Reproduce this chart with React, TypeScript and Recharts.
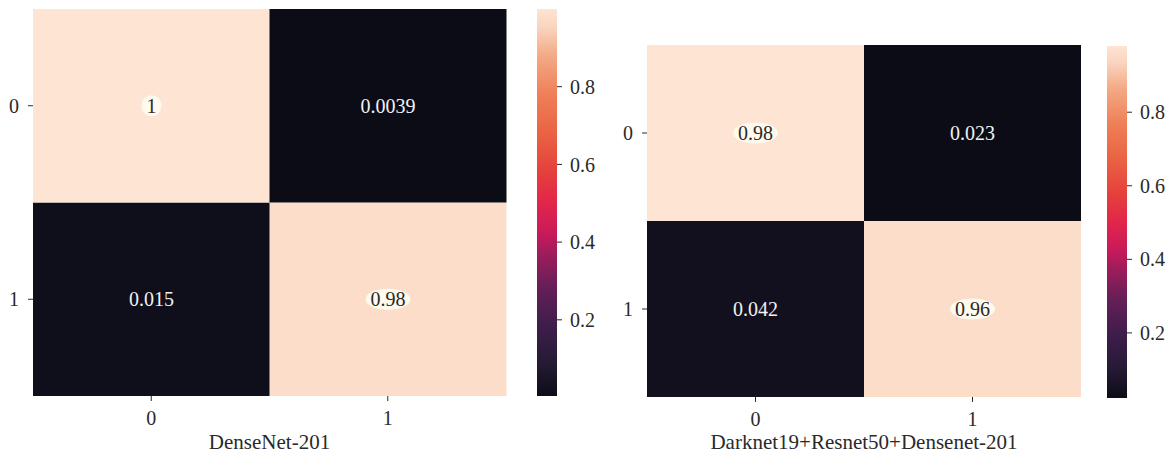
import React from "react";
import {
  BarChart,
  Bar,
  Cell,
  XAxis,
  YAxis,
  LabelList,
} from "recharts";

// confusion matrices: rows = true class, columns = predicted class
const classes = ["0", "1"];
const denseNet = [
  [1, 0.0039],
  [0.015, 0.98],
];
const fusion = [
  [0.98, 0.023],
  [0.042, 0.96],
];
const cbarTicks = [0.2, 0.4, 0.6, 0.8];

const FONT = "'Liberation Serif', 'DejaVu Serif', serif";
const INK = "#2a2a2a";

// seaborn "rocket"-like colour ramp
const rocket: [number, string][] = [
  [0, "#0c0c17"],
  [0.08, "#241a33"],
  [0.18, "#3e1d4b"],
  [0.28, "#641f57"],
  [0.36, "#9a1c5c"],
  [0.42, "#c81a5a"],
  [0.5, "#e2264a"],
  [0.58, "#e5403c"],
  [0.68, "#ea6343"],
  [0.78, "#ee8058"],
  [0.88, "#f3aa86"],
  [0.95, "#f9d3bd"],
  [1, "#fde4d3"],
];

const hex = (c: string) => [1, 3, 5].map((i) => parseInt(c.slice(i, i + 2), 16));
const cmap = (t: number) => {
  const v = Math.max(0, Math.min(1, t));
  for (let i = 1; i < rocket.length; i++) {
    const [p1, c1] = rocket[i];
    const [p0, c0] = rocket[i - 1];
    if (v <= p1) {
      const f = (v - p0) / (p1 - p0);
      const a = hex(c0);
      const b = hex(c1);
      const m = a.map((x, k) => Math.round(x + (b[k] - x) * f));
      return `rgb(${m.join(",")})`;
    }
  }
  return rocket[rocket.length - 1][1];
};

const Annot = (props: any) => {
  const { x, y, width, height, value } = props;
  const cx = x + width / 2;
  const cy = y + height / 2;
  const txt = String(value);
  const light = value > 0.5;
  const w = txt.replace(".", "").length * 10 + (txt.includes(".") ? 5 : 0);
  return (
    <g>
      {light && (
        <ellipse cx={cx} cy={cy} rx={w / 2 + 5} ry={10.5} fill="#fffaee" />
      )}
      <text
        x={cx}
        y={cy}
        dy="0.35em"
        textAnchor="middle"
        fontFamily={FONT}
        fontSize={20}
        fill={light ? INK : "#f2f2f2"}
      >
        {txt}
      </text>
    </g>
  );
};

type HeatProps = {
  m: number[][];
  label: string;
  left: number;
  top: number;
  width: number;
  height: number;
  margin: { top: number; right: number; bottom: number; left: number };
  axisH: number;
};

const Heatmap = ({ m, label, left, top, width, height, margin, axisH }: HeatProps) => {
  const flat = m.flat();
  const lo = Math.min(...flat);
  const hi = Math.max(...flat);
  const norm = (v: number) => (v - lo) / (hi - lo);
  const data = classes.map((c, j) => ({
    name: c,
    row0: 1,
    row1: 1,
    v0: m[0][j],
    v1: m[1][j],
  }));
  const tickStyle = { fontFamily: FONT, fontSize: 20, fill: INK };
  return (
    <div style={{ position: "absolute", left, top }}>
      <BarChart
        width={width}
        height={height}
        data={data}
        margin={margin}
        barCategoryGap={0}
        barGap={0}
      >
        <XAxis
          dataKey="name"
          axisLine={false}
          tickSize={5}
          tickMargin={10}
          height={axisH}
          tickLine={{ stroke: INK }}
          tick={tickStyle}
          label={{
            value: label,
            position: "insideBottom",
            offset: 6,
            style: { fontFamily: FONT, fontSize: 21, fill: INK },
          }}
        />
        <YAxis
          type="number"
          domain={[0, 2]}
          ticks={[0.5, 1.5]}
          tickFormatter={(v: number) => classes[v > 1 ? 0 : 1]}
          axisLine={false}
          tickSize={5}
          tickMargin={9}
          width={30}
          tickLine={{ stroke: INK }}
          tick={tickStyle}
        />
        <Bar dataKey="row1" stackId="s" isAnimationActive={false}>
          {data.map((d, i) => (
            <Cell key={`b${i}`} fill={cmap(norm(d.v1))} />
          ))}
          <LabelList dataKey="v1" content={Annot} />
        </Bar>
        <Bar dataKey="row0" stackId="s" isAnimationActive={false}>
          {data.map((d, i) => (
            <Cell key={`t${i}`} fill={cmap(norm(d.v0))} />
          ))}
          <LabelList dataKey="v0" content={Annot} />
        </Bar>
      </BarChart>
    </div>
  );
};

type CbarProps = {
  m: number[][];
  id: string;
  left: number;
  top: number;
  width: number;
  height: number;
  margin: { top: number; right: number; bottom: number; left: number };
  axisW: number;
};

const Colorbar = ({ m, id, left, top, width, height, margin, axisW }: CbarProps) => {
  const flat = m.flat();
  const lo = Math.min(...flat);
  const hi = Math.max(...flat);
  const data = [{ name: "c", range: [lo, hi] }];
  return (
    <div style={{ position: "absolute", left, top }}>
      <BarChart width={width} height={height} data={data} margin={margin} barCategoryGap={0}>
        <defs>
          <linearGradient id={id} x1="0" y1="1" x2="0" y2="0">
            {rocket.map(([p, c]) => (
              <stop key={p} offset={`${p * 100}%`} stopColor={c} />
            ))}
          </linearGradient>
        </defs>
        <XAxis dataKey="name" hide />
        <YAxis
          orientation="right"
          type="number"
          domain={[lo, hi]}
          ticks={cbarTicks}
          tickFormatter={(v: number) => v.toFixed(1)}
          axisLine={false}
          tickSize={5}
          tickMargin={8}
          width={axisW}
          tickLine={{ stroke: INK }}
          tick={{ fontFamily: FONT, fontSize: 20, fill: INK }}
        />
        <Bar dataKey="range" fill={`url(#${id})`} isAnimationActive={false} />
      </BarChart>
    </div>
  );
};

export default function App() {
  return (
    <div
      style={{
        position: "absolute",
        left: 0,
        top: 0,
        width: 1170,
        height: 455,
        background: "#fff",
        overflow: "hidden",
      }}
    >
      <Heatmap
        m={denseNet}
        label="DenseNet-201"
        left={0}
        top={0}
        width={520}
        height={455}
        margin={{ top: 9, right: 14, bottom: 0, left: 3 }}
        axisH={59}
      />
      <Colorbar
        m={denseNet}
        id="cbLeft"
        left={527}
        top={0}
        width={80}
        height={455}
        margin={{ top: 9, right: 0, bottom: 59, left: 10 }}
        axisW={50}
      />
      <Heatmap
        m={fusion}
        label="Darknet19+Resnet50+Densenet-201"
        left={600}
        top={0}
        width={490}
        height={455}
        margin={{ top: 45, right: 9, bottom: 0, left: 17 }}
        axisH={58}
      />
      <Colorbar
        m={fusion}
        id="cbRight"
        left={1097}
        top={0}
        width={73}
        height={455}
        margin={{ top: 46, right: 0, bottom: 57, left: 10 }}
        axisW={43}
      />
    </div>
  );
}
